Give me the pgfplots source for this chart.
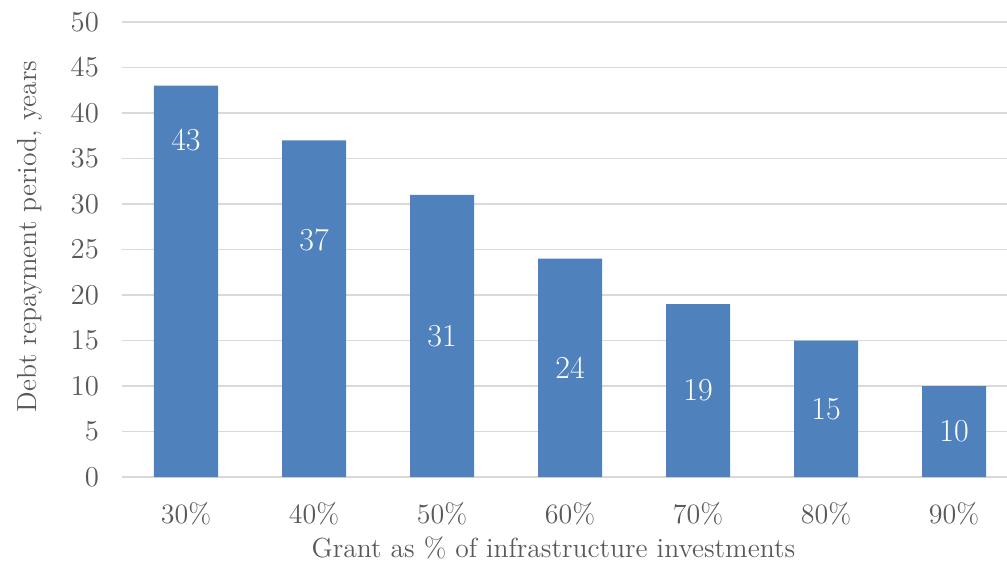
\documentclass[border=0pt]{standalone}
\usepackage{pgfplots}
\pgfplotsset{compat=1.18}
\definecolor{barblue}{HTML}{4F81BD}
\definecolor{gridgray}{HTML}{D9D9D9}
\definecolor{txtgray}{HTML}{595959}
\begin{document}
\begin{tikzpicture}
\useasboundingbox (-61pt,-43pt) rectangle (442.5pt,238.5pt);
\begin{axis}[
    scale only axis,
    width=442.5pt, height=227.5pt,
    at={(0,0)}, anchor=south west,
    ybar, bar width=32pt, bar shift=0pt,
    xmin=-0.5, xmax=6.414,
    ymin=0, ymax=50,
    ytick={0,5,...,50},
    xtick={0,...,6},
    xticklabels={30\%,40\%,50\%,60\%,70\%,80\%,90\%},
    axis line style={draw=none},
    major tick length=0pt,
    ymajorgrids, grid style={gridgray, line width=0.8pt},
    tick label style={txtgray, font=\fontsize{14}{16}\selectfont},
    yticklabel style={xshift=-8pt},
    xticklabel style={yshift=-9pt},
    label style={txtgray, font=\fontsize{13.8}{16}\selectfont},
    xlabel={Grant as \% of infrastructure investments},
    ylabel={Debt repayment period, years},
    xlabel style={at={([yshift=-35.5pt]rel axis cs:0.4875,0)}, anchor=center},
    ylabel style={at={([xshift=-46pt,yshift=6.5pt]rel axis cs:0,0.5)}, anchor=center, rotate=0},
]
\addplot[fill=barblue, draw=none] coordinates {(0,43) (1,37) (2,31) (3,24) (4,19) (5,15) (6,10)};
\addplot[draw=none, fill=none,
    nodes near coords, point meta=explicit symbolic,
    nodes near coords align={center},
    every node near coord/.append style={white, font=\fontsize{16}{18}\selectfont, anchor=center}]
  table[meta=lab] {
x y lab
0 37 43
1 26 37
2 15.5 31
3 12 24
4 9.5 19
5 7.5 15
6 5 10
};
\end{axis}
\end{tikzpicture}
\end{document}
